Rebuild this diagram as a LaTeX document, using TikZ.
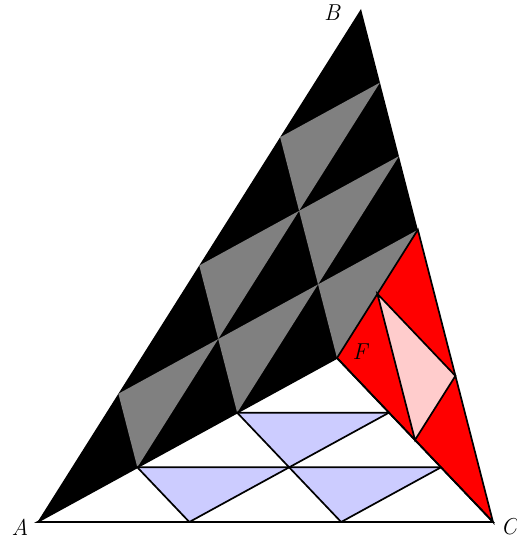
\documentclass[tikz,border=0pt]{standalone}
\usepackage{fontspec}
\usetikzlibrary{calc}
\begin{document}
\begin{tikzpicture}[x=1pt,y=-1pt,
  edge/.style={line width=1.7pt, line join=miter},
  lbl/.style={font=\fontsize{23}{27}\selectfont\itshape, inner sep=0pt},
  grayfill/.style={fill=gray},
  bluefill/.style={fill=blue!20},
  pinkfill/.style={fill=red!20}]
\useasboundingbox (0,0) rectangle (516,540);
% main points
\coordinate (A) at (37.5,522);
\coordinate (B) at (361,9);
\coordinate (C) at (493,522);
\coordinate (F) at (337,358);
\coordinate (D) at (417.85,229.75);
% lattice in the black part
\coordinate (L01) at (118.375,393.75);
\coordinate (L02) at (199.25,265.5);
\coordinate (L03) at (280.125,137.25);
\coordinate (L10) at (137.333,467.333);
\coordinate (L11) at (218.208,339.083);
\coordinate (L12) at (299.083,210.833);
\coordinate (L13) at (379.958,82.583);
\coordinate (L20) at (237.167,412.667);
\coordinate (L21) at (318.042,284.417);
\coordinate (L22) at (398.917,156.167);
% black quadrilateral
\fill[black] (A) -- (F) -- (D) -- (B) -- cycle;
\begin{scope}
\clip (A) -- (F) -- (D) -- (B) -- cycle;
\fill[grayfill] (L01) -- (L11) -- (L10) -- cycle;
\fill[grayfill] (L02) -- (L12) -- (L11) -- cycle;
\fill[grayfill] (L03) -- (L13) -- (L12) -- cycle;
\fill[grayfill] (L11) -- (L21) -- (L20) -- cycle;
\fill[grayfill] (L12) -- (L22) -- (L21) -- cycle;
\fill[grayfill] (L21) -- (D) -- (F) -- cycle;
\end{scope}
% red triangle
\coordinate (M1) at ($(F)!0.5!(D)$);
\coordinate (M2) at ($(D)!0.5!(C)$);
\coordinate (M3) at ($(F)!0.5!(C)$);
\fill[red] (F) -- (D) -- (C) -- cycle;
\fill[pinkfill] (M1) -- (M2) -- (M3) -- cycle;
\draw[edge] (M1) -- (M2) -- (M3) -- cycle;
\draw[edge] (F) -- (D) -- (C) -- cycle;
% white triangle
\coordinate (a1) at ($(A)!1/3!(F)$);
\coordinate (a2) at ($(A)!2/3!(F)$);
\coordinate (b1) at ($(A)!1/3!(C)$);
\coordinate (b2) at ($(A)!2/3!(C)$);
\coordinate (c1) at ($(F)!1/3!(C)$);
\coordinate (c2) at ($(F)!2/3!(C)$);
\coordinate (m) at ($(a1)+(b1)-(A)$);
\fill[bluefill] (a1) -- (m) -- (b1) -- cycle;
\fill[bluefill] (m) -- (c2) -- (b2) -- cycle;
\fill[bluefill] (a2) -- (c1) -- (m) -- cycle;
\draw[edge] (a1) -- (c2);
\draw[edge] (a2) -- (c1);
\draw[edge] (b1) -- (c1);
\draw[edge] (b2) -- (c2);
\draw[edge] (a1) -- (b1);
\draw[edge] (a2) -- (b2);
\draw[edge] (A) -- (F) -- (C) -- cycle;
% labels
\node[lbl] (lA) at ($(A)+(-17.5,5)$) {A};
\node[lbl] (lB) at ($(B)+(-29,3.5)$) {B};
\node[lbl] (lC) at ($(C)+(16,5)$) {C};
\node[lbl] (lF) at ($(F)+(23,-6)$) {F};
\end{tikzpicture}
\end{document}
